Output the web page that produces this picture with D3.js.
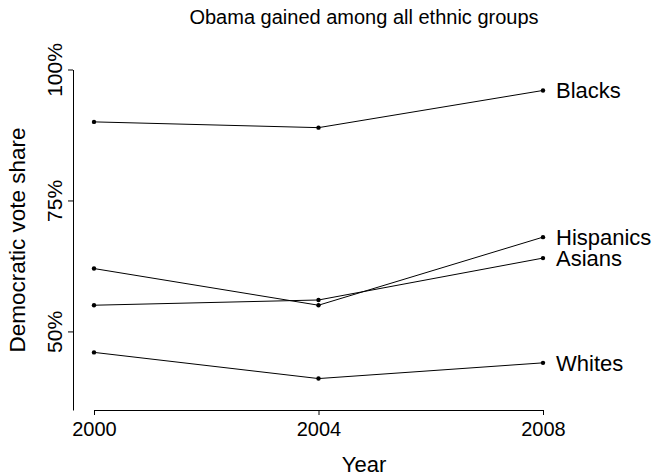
<!DOCTYPE html>
<html><head><meta charset="utf-8">
<script src="https://cdn.jsdelivr.net/npm/d3@7"></script>
<style>body{margin:0;background:#fff}svg{display:block}text{font-family:"Liberation Sans",Arial,sans-serif;fill:#000}</style>
</head><body>
<script>
const years = [2000, 2004, 2008];
const groups = ["Blacks", "Hispanics", "Asians", "Whites"];
const blacks = [90, 88.9, 96];
const hispanics = [62, 55, 68];
const asians = [55, 56, 64];
const whites = [46, 41, 44];
const yTicks = [50, 75, 100];
const seriesValues = [blacks, hispanics, asians, whites];

const W = 656, H = 476;
const svg = d3.select("body").append("svg").attr("width", W).attr("height", H);
const x = d3.scaleLinear().domain([2000, 2008]).range([94, 543]);
const y = d3.scaleLinear().domain([35, 100]).range([410, 69.5]);

// title
svg.append("text").attr("x", 364).attr("y", 24).attr("text-anchor", "middle")
  .style("font-size", "20px").text("Obama gained among all ethnic groups");

// y axis
const yAx = svg.append("g").attr("transform", "translate(73,0)")
  .call(d3.axisLeft(y).tickValues(yTicks).tickSize(5).tickSizeOuter(0).tickFormat(d => d + "%"));
yAx.select(".domain").attr("stroke", "#000");
yAx.selectAll(".tick line").attr("stroke", "#000");
yAx.selectAll(".tick text").attr("transform", "rotate(-90)").attr("x", 0).attr("y", -11.5)
  .attr("dy", "0").attr("text-anchor", "middle").style("font-size", "21px");

// x axis
const xAx = svg.append("g").attr("transform", "translate(0,410)")
  .call(d3.axisBottom(x).tickValues(years).tickSize(5).tickSizeOuter(0).tickFormat(d3.format("d")));
xAx.select(".domain").attr("stroke", "#000");
xAx.selectAll(".tick line").attr("stroke", "#000");
xAx.selectAll(".tick text").attr("y", 26).attr("dy", "0").style("font-size", "20px");

// axis titles
svg.append("text").attr("x", 364).attr("y", 472).attr("text-anchor", "middle")
  .style("font-size", "22px").text("Year");
svg.append("text").attr("transform", "translate(24.5,240) rotate(-90)").attr("text-anchor", "middle")
  .style("font-size", "22.5px").text("Democratic vote share");

// lines
const line = d3.line().x((d, i) => x(years[i])).y(d => y(d));
groups.forEach((g, gi) => {
  const vals = seriesValues[gi];
  svg.append("path").datum(vals).attr("d", line).attr("fill", "none")
    .attr("stroke", "#000").attr("stroke-width", 1);
  svg.selectAll(null).data(vals).enter().append("circle")
    .attr("cx", (d, i) => x(years[i])).attr("cy", d => y(d)).attr("r", 2.2).attr("fill", "#000");
  svg.append("text").attr("x", x(2008) + 13).attr("y", y(vals[2])).attr("dy", "0.36em")
    .style("font-size", "22px").text(g);
});
</script>
</body></html>
